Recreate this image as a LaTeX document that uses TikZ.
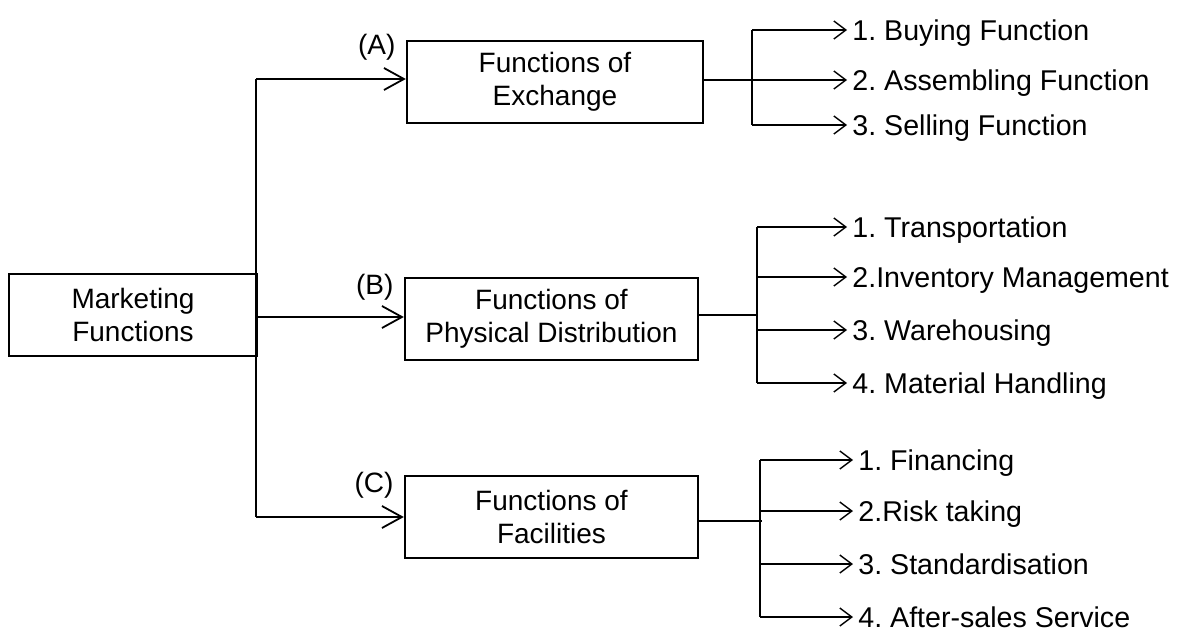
\documentclass[tikz,border=0pt]{standalone}
\usepackage{fontspec}
\setmainfont{Liberation Sans}
\usetikzlibrary{arrows.meta}
\usetikzlibrary{positioning}
\frenchspacing

\begin{document}
\begin{tikzpicture}
	[x=0.5pt,y=-0.5pt,every node/.style={font=\fontsize{14}{16.5}\selectfont},
	box/.style={draw,line width=1.2pt,align=center,minimum height=41pt,inner sep=0pt},
	item/.style={anchor=west,inner sep=2.5pt,text height=10pt,text depth=0pt,font=\fontsize{14.3}{16.5}\selectfont},
	tag/.style={anchor=east,inner sep=0pt},
	bigarrow/.style={line width=0.9pt,-{Straight Barb[length=10pt,width=11pt,line width=0.9pt]}},
	smallarrow/.style={line width=0.7pt,-{Straight Barb[length=6pt,width=9pt,line width=0.7pt]}}]
	\useasboundingbox (0,0) rectangle (1177,632);
	\node[box,minimum width=124pt] (mf) at (133,315) {Marketing\\Functions};
	\node[box,minimum width=148pt] (fa) at (555,82) {Functions of\\Exchange};
	\node[box,minimum width=146.5pt] (fb) at (551.5,319) {Functions of\\Physical Distribution};
	\node[box,minimum width=146.5pt] (fc) at (551.5,517) {Functions of\\Facilities};
	\node[tag] (la) at ([xshift=-5pt,yshift=-3.5pt]fa.north west) {(A)};
	\node[tag] (lb) at ([xshift=-5pt,yshift=-5pt]fb.north west) {(B)};
	\node[tag] (lc) at ([xshift=-5pt,yshift=-5pt]fc.north west) {(C)};
	
	\coordinate (t1) at (256,79);
	\coordinate (t2) at (256,317);
	\coordinate (t3) at (256,517);
	\draw[line width=1.1pt] (t1) -- (t3);
	\draw[bigarrow] (t1) -- (t1 -| fa.west);
	\draw[bigarrow] (t2) -- (t2 -| fb.west);
	\draw[bigarrow] (t3) -- (t3 -| fc.west);
	
	\coordinate (sa1) at (752,30);
	\coordinate (sam) at (752,80);
	\coordinate (sa2) at (752,125);
	\draw[line width=1.4pt] (sam -| fa.east) -- (sam);
	\draw[line width=1.4pt] (sa1) -- (sa2);
	\foreach \n/\y/\t in {1/30/1. Buying Function, 2/80/2. Assembling Function, 3/125/3. Selling Function}
	{
	\node[item] (a\n) at (847,\y) {\t};
	\draw[smallarrow] (a\n -| sa1) -- (a\n.west);
	}
	
	\coordinate (sb1) at (757,227);
	\coordinate (sbm) at (757,315);
	\coordinate (sb2) at (757,383);
	\draw[line width=1.4pt] (sbm -| fb.east) -- (sbm);
	\draw[line width=1.4pt] (sb1) -- (sb2);
	\foreach \n/\y/\t in {1/227/1. Transportation, 2/277/2.Inventory Management, 3/330/3. Warehousing, 4/383/4. Material Handling}
	{
	\node[item] (b\n) at (847,\y) {\t};
	\draw[smallarrow] (b\n -| sb1) -- (b\n.west);
	}
	
	\coordinate (sc1) at (760,460);
	\coordinate (scm) at (762,521);
	\coordinate (sc2) at (760,617);
	\draw[line width=1.4pt] (scm -| fc.east) -- (scm);
	\draw[line width=1.4pt] (sc1) -- (sc2);
	\foreach \n/\y/\t in {1/460/1. Financing, 2/511/2.Risk taking, 3/564/3. Standardisation, 4/617/4. After-sales Service}
	{
	\node[item] (c\n) at (853,\y) {\t};
	\draw[smallarrow] (c\n -| sc1) -- (c\n.west);
	}
\end{tikzpicture}
\end{document}
